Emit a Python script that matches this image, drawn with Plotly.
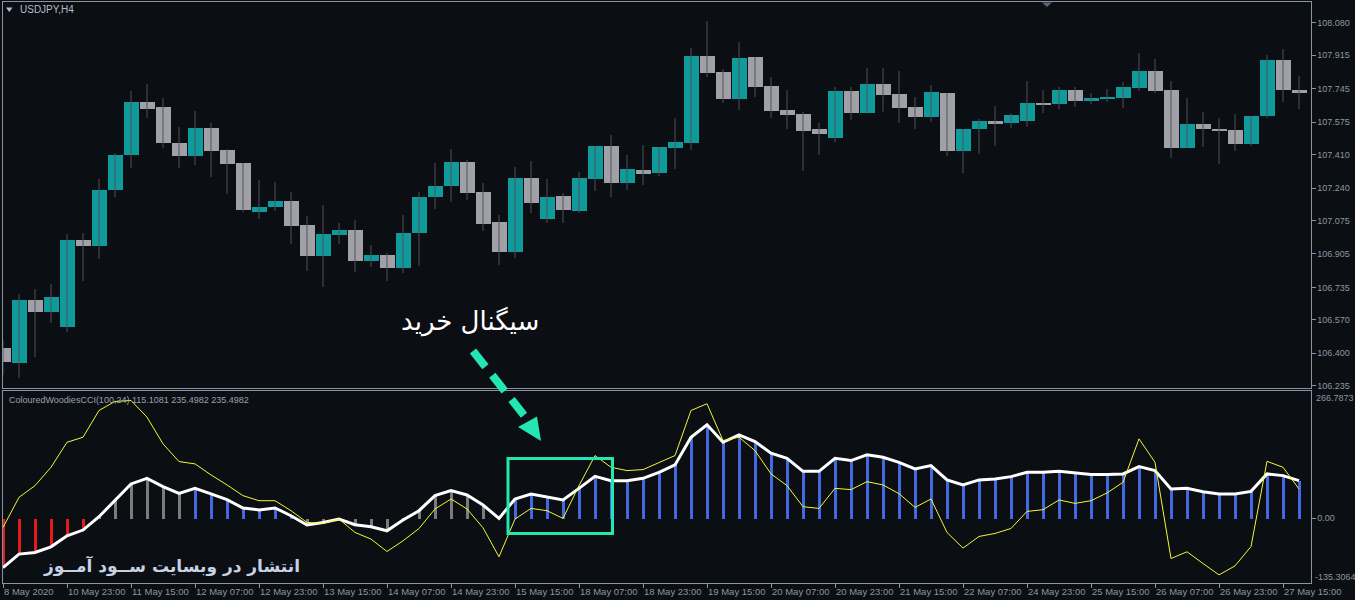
import plotly.graph_objects as go

# ---------------- data ----------------
bar_index = list(range(82))

open_ = [106.427, 106.351, 106.671, 106.610, 106.534, 106.976, 106.945, 107.230, 107.408, 107.677,
         107.652, 107.469, 107.403, 107.545, 107.433, 107.367, 107.118, 107.144, 107.174, 107.052,
         106.894, 107.001, 107.027, 106.869, 106.900, 106.833, 107.011, 107.194, 107.250, 107.372,
         107.220, 107.067, 106.915, 107.291, 107.083, 107.199, 107.123, 107.286, 107.454, 107.266,
         107.332, 107.316, 107.444, 107.469, 107.911, 107.830, 107.693, 107.906, 107.759, 107.637,
         107.616, 107.540, 107.494, 107.733, 107.621, 107.769, 107.718, 107.652, 107.601, 107.723,
         107.428, 107.540, 107.581, 107.571, 107.581, 107.672, 107.667, 107.738, 107.682, 107.693,
         107.698, 107.749, 107.835, 107.738, 107.444, 107.566, 107.540, 107.535, 107.464, 107.606,
         107.891, 107.738]
high = [106.467, 106.701, 106.727, 106.752, 107.006, 107.011, 107.286, 107.418, 107.733, 107.769,
        107.698, 107.550, 107.632, 107.571, 107.438, 107.367, 107.281, 107.271, 107.220, 107.098,
        107.154, 107.062, 107.077, 106.950, 106.910, 107.103, 107.220, 107.367, 107.438, 107.383,
        107.266, 107.103, 107.347, 107.377, 107.286, 107.215, 107.322, 107.454, 107.510, 107.408,
        107.459, 107.449, 107.596, 107.952, 108.089, 107.845, 107.982, 107.906, 107.804, 107.738,
        107.627, 107.571, 107.754, 107.754, 107.850, 107.850, 107.835, 107.703, 107.764, 107.723,
        107.540, 107.591, 107.657, 107.621, 107.784, 107.738, 107.754, 107.754, 107.723, 107.743,
        107.779, 107.926, 107.896, 107.784, 107.698, 107.627, 107.596, 107.616, 107.606, 107.916,
        107.947, 107.810]
low = [106.289, 106.274, 106.381, 106.554, 106.508, 106.767, 106.879, 107.194, 107.342, 107.596,
       107.444, 107.342, 107.357, 107.296, 107.210, 107.118, 107.083, 107.123, 106.955, 106.818,
       106.737, 106.955, 106.813, 106.839, 106.767, 106.808, 106.844, 107.133, 107.169, 107.179,
       107.022, 106.849, 106.884, 107.113, 107.062, 107.062, 107.113, 107.225, 107.194, 107.230,
       107.255, 107.301, 107.337, 107.433, 107.804, 107.672, 107.637, 107.703, 107.596, 107.540,
       107.327, 107.408, 107.474, 107.586, 107.621, 107.627, 107.571, 107.540, 107.576, 107.403,
       107.316, 107.413, 107.454, 107.545, 107.550, 107.621, 107.642, 107.652, 107.667, 107.677,
       107.647, 107.733, 107.723, 107.393, 107.444, 107.449, 107.362, 107.428, 107.454, 107.596,
       107.677, 107.642]
close = [106.356, 106.671, 106.610, 106.686, 106.976, 106.945, 107.230, 107.408, 107.677, 107.642,
         107.469, 107.403, 107.545, 107.428, 107.362, 107.128, 107.144, 107.174, 107.047, 106.894,
         107.006, 107.027, 106.869, 106.900, 106.833, 107.011, 107.194, 107.250, 107.372, 107.215,
         107.057, 106.915, 107.291, 107.164, 107.194, 107.128, 107.291, 107.454, 107.266, 107.337,
         107.311, 107.449, 107.474, 107.911, 107.825, 107.693, 107.901, 107.754, 107.632, 107.611,
         107.530, 107.515, 107.733, 107.621, 107.769, 107.713, 107.647, 107.601, 107.728, 107.428,
         107.540, 107.581, 107.566, 107.611, 107.672, 107.667, 107.738, 107.682, 107.698, 107.703,
         107.754, 107.835, 107.733, 107.444, 107.566, 107.540, 107.530, 107.464, 107.606, 107.891,
         107.738, 107.723]

# Woodies CCI (thick white line + histogram) and Turbo CCI (thin yellow line)
cci = [-103.0, -75.0, -71.6, -59.7, -36.6, -24.7, 3.1, 36.6, 71.6, 83.3,
       66.0, 51.9, 62.4, 50.7, 38.7, 21.4, 17.2, 21.4, 5.2, -14.2,
       -8.8, -1.7, -13.6, -17.8, -26.2, -3.8, 15.7, 47.1, 57.6, 48.6,
       27.6, -0.4, 40.2, 50.7, 45.0, 38.1, 62.4, 87.5, 78.5, 78.5,
       83.3, 95.9, 111.4, 169.2, 195.2, 158.7, 174.2, 160.2, 135.7, 125.2,
       98.0, 98.0, 125.2, 120.4, 132.3, 127.3, 116.8, 103.0, 109.9, 80.0,
       69.5, 80.0, 82.1, 86.9, 95.9, 95.9, 98.0, 93.8, 91.1, 91.1,
       92.6, 107.8, 99.5, 61.1, 62.4, 55.5, 50.7, 50.7, 56.1, 92.6,
       89.0, 78.5]
tcci = [-19.3, 43.6, 68.1, 106.4, 158.7, 169.2, 225.1, 244.0, 246.0, 211.1,
        155.4, 118.3, 113.5, 90.5, 69.5, 47.1, 36.6, 36.6, 15.7, -8.8,
        -10.9, -1.7, -29.7, -43.6, -69.5, -47.1, -21.4, 19.3, 40.2, 19.3,
        -19.9, -80.6, -1.7, 20.5, 15.7, -0.4, 68.1, 130.9, 106.4, 99.5,
        101.6, 115.6, 130.9, 225.1, 239.1, 162.3, 169.2, 141.3, 92.6, 68.1,
        24.1, 20.5, 62.4, 59.7, 76.4, 69.5, 51.3, 22.6, 40.2, -29.7,
        -62.4, -38.1, -31.8, -21.4, 14.2, 17.8, 38.1, 31.0, 36.6, 52.8,
        75.0, 165.8, 116.8, -84.2, -70.1, -94.6, -118.3, -99.5, -59.1, 118.9,
        106.4, 61.1]
hist_state = ["down"] * 6 + ["neutral"] * 6 + ["up"] * 7 + ["neutral"] * 13 + ["up"] * 50

time_tick_bars = list(range(0, 81, 4))
time_tick_labels = ["8 May 2020", "10 May 23:00", "11 May 15:00", "12 May 07:00", "12 May 23:00",
                    "13 May 15:00", "14 May 07:00", "14 May 23:00", "15 May 15:00", "18 May 07:00",
                    "18 May 23:00", "19 May 15:00", "20 May 07:00", "20 May 23:00", "21 May 15:00",
                    "22 May 07:00", "24 May 23:00", "25 May 15:00", "26 May 07:00", "26 May 23:00",
                    "27 May 15:00"]
price_tick_vals = [108.080, 107.915, 107.745, 107.575, 107.410, 107.240, 107.075, 106.905,
                   106.735, 106.570, 106.400, 106.235]
price_tick_text = ["108.080", "107.915", "107.745", "107.575", "107.410", "107.240", "107.075",
                   "106.905", "106.735", "106.570", "106.400", "106.235"]
cci_max_label = "266.7873"
cci_min_label = "-135.3064"
cci_range = [-135.3064, 266.7873]
price_range = [106.2234, 108.1857]
x_range = [-0.03125, 81.71875]

# ---------------- style ----------------
W, H = 1355, 600
BG = "#0b0e12"
FRAME = "#8a94a6"
TXT = "#8d96a3"
BULL = "#0f9a9c"
BEAR = "#a0a0a8"
WICK = "#505056"
HIST_COL = {"down": "#e31b1b", "neutral": "#7b7b7b", "up": "#4169e1"}
ACCENT = "#22e6b4"
FONT = "Liberation Sans"


def px(x):
    return x / W


def py(y):
    return 1 - y / H


fig = go.Figure()

# wicks
wx, wy = [], []
for i, hi, lo in zip(bar_index, high, low):
    wx += [i, i, None]
    wy += [lo, hi, None]
fig.add_trace(go.Scatter(x=wx, y=wy, mode="lines", line=dict(color=WICK, width=1),
                         hoverinfo="skip", showlegend=False, xaxis="x", yaxis="y"))

# bodies
body_base = [min(o, c) for o, c in zip(open_, close)]
body_len = [max(abs(c - o), 0.004) for o, c in zip(open_, close)]
body_col = [BULL if c > o else BEAR for o, c in zip(open_, close)]
fig.add_trace(go.Bar(x=bar_index, y=body_len, base=body_base, width=0.9,
                     marker=dict(color=body_col, line=dict(width=0)),
                     hoverinfo="skip", showlegend=False, xaxis="x", yaxis="y"))

# indicator histogram
fig.add_trace(go.Bar(x=bar_index, y=cci, width=0.17,
                     marker=dict(color=[HIST_COL[s] for s in hist_state], line=dict(width=0)),
                     hoverinfo="skip", showlegend=False, xaxis="x2", yaxis="y2"))
fig.add_trace(go.Scatter(x=bar_index, y=cci, mode="lines", line=dict(color="#ffffff", width=3),
                         hoverinfo="skip", showlegend=False, xaxis="x2", yaxis="y2"))
fig.add_trace(go.Scatter(x=bar_index, y=tcci, mode="lines", line=dict(color="#f5f53a", width=1),
                         hoverinfo="skip", showlegend=False, xaxis="x2", yaxis="y2"))

xdom = [px(2.5), px(1310.5)]
axis_common = dict(showgrid=False, zeroline=False, showline=True, mirror=True,
                   linecolor=FRAME, linewidth=1, automargin=False)

fig.update_layout(
    width=W, height=H,
    margin=dict(l=0, r=0, t=0, b=0, autoexpand=False),
    paper_bgcolor=BG, plot_bgcolor=BG,
    barmode="overlay", bargap=0,
    showlegend=False,
    font=dict(family=FONT, size=10, color=TXT),
    xaxis=dict(domain=xdom, range=x_range, anchor="y", showticklabels=False, ticks="",
               **axis_common),
    yaxis=dict(domain=[py(388), py(2)], range=price_range, anchor="x", side="right",
               tickvals=price_tick_vals, ticktext=price_tick_text, ticks="outside", ticklen=4,
               tickcolor=FRAME, tickfont=dict(family=FONT, size=9, color=TXT), **axis_common),
    xaxis2=dict(domain=xdom, range=x_range, anchor="y2", tickvals=time_tick_bars,
                ticktext=time_tick_labels, ticks="outside", ticklen=4, tickcolor=FRAME,
                ticklabelposition="outside right", tickangle=0,
                tickfont=dict(family=FONT, size=9.5, color=TXT), **axis_common),
    yaxis2=dict(domain=[py(583), py(390.5)], range=cci_range, anchor="x2", side="right",
                tickvals=[0], ticktext=["0.00"], ticks="outside", ticklen=4, tickcolor=FRAME,
                tickfont=dict(family=FONT, size=9, color=TXT), **axis_common),
)

annotations = [
    dict(x=px(18), y=py(9.5), text="USDJPY,H4", xanchor="left", yanchor="middle",
         font=dict(family=FONT, size=10, color="#b4bcc8")),
    dict(x=px(7), y=py(399.5), text="ColouredWoodiesCCI(100,24) 115.1081 235.4982 235.4982",
         xanchor="left", yanchor="middle", font=dict(family=FONT, size=9, color="#9aa3ae")),
    dict(x=px(1313.5), y=py(398), text=cci_max_label, xanchor="left", yanchor="middle",
         font=dict(family=FONT, size=9, color=TXT)),
    dict(x=px(1312.5), y=py(577), text=cci_min_label, xanchor="left", yanchor="middle",
         font=dict(family=FONT, size=9, color=TXT)),
    dict(x=px(470), y=py(321), text="سیگنال خرید", xanchor="center", yanchor="middle",
         font=dict(family="DejaVu Sans", size=26, color="#ffffff")),
    dict(x=px(171), y=py(566), text="<b>انتشار در وبسایت ســود آمــوز</b>", xanchor="center",
         yanchor="middle", font=dict(family="DejaVu Sans", size=17, color="#c7d2e2")),
]
for a in annotations:
    a.update(xref="paper", yref="paper", showarrow=False)
fig.update_layout(annotations=annotations)


def tri(points):
    return "M " + " L ".join(f"{px(x)},{py(y)}" for x, y in points) + " Z"


shapes = [
    # title triangle
    dict(type="path", path=tri([(6, 7.5), (12.5, 7.5), (9.25, 12)]), fillcolor="#b4bcc8",
         line=dict(width=0)),
    # chart shift marker
    dict(type="path", path=tri([(1042, 2.5), (1052, 2.5), (1047, 7)]), fillcolor="#5c6470",
         line=dict(width=0)),
    # signal box
    dict(type="rect", x0=px(508), x1=px(612.5), y0=py(458.5), y1=py(533.5),
         line=dict(color=ACCENT, width=3), fillcolor="rgba(0,0,0,0)"),
    # dashed arrow shaft
    dict(type="line", x0=px(473), y0=py(351), x1=px(527), y1=py(419),
         line=dict(color=ACCENT, width=8, dash="20px,11px")),
    # arrow head
    dict(type="path", path=tri([(518, 427), (537, 416.5), (541, 441)]), fillcolor=ACCENT,
         line=dict(width=0)),
]
for s in shapes:
    s.update(xref="paper", yref="paper")
fig.update_layout(shapes=shapes)

fig.write_html("out.html", config={"displayModeBar": False})
